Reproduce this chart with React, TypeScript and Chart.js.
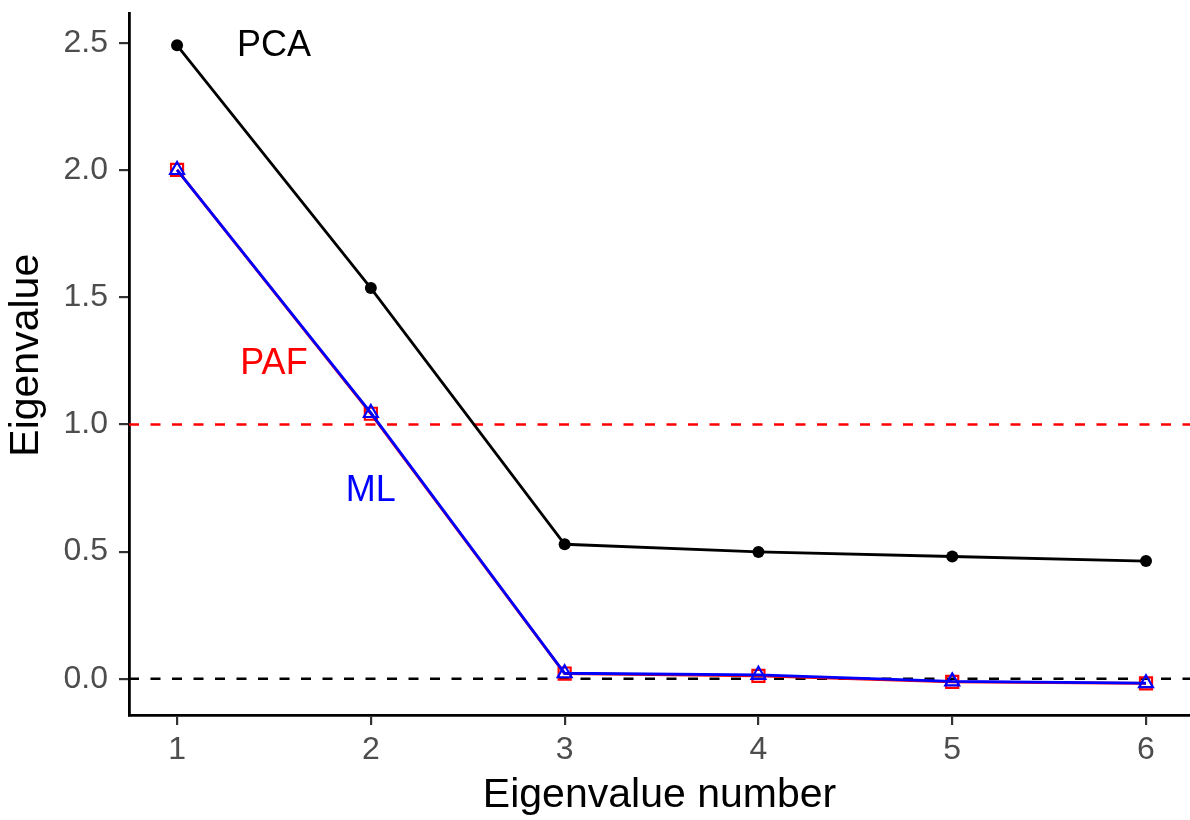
import React, { useEffect, useRef } from "react";
import { Chart, registerables } from "chart.js";

Chart.register(...registerables);

const eigenNumbers = [1, 2, 3, 4, 5, 6];
const pcaValues = [2.49, 1.536, 0.529, 0.499, 0.481, 0.463];
const pafValues = [2.0, 1.042, 0.021, 0.012, -0.012, -0.018];
const mlValues = [2.0, 1.045, 0.022, 0.016, -0.01, -0.017];

const xTickValues = [1, 2, 3, 4, 5, 6];
const xTickLabels = ["1", "2", "3", "4", "5", "6"];
const yTickValues = [0, 0.5, 1.0, 1.5, 2.0, 2.5];
const yTickLabels = ["0.0", "0.5", "1.0", "1.5", "2.0", "2.5"];

const refLineValues = [1.0, 0.0];
const refLineColors = ["#FF0000", "#000000"];

const labelTexts = ["PCA", "PAF", "ML"];
const labelX = [1.5, 1.5, 2.0];
const labelY = [2.5, 1.25, 0.75];
const labelColors = ["#000000", "#FF0000", "#0000FF"];

const xTitle = "Eigenvalue number";
const yTitle = "Eigenvalue";

const FONT = "'Liberation Sans', Arial, Helvetica, sans-serif";

export default function App() {
  const canvasRef = useRef<HTMLCanvasElement | null>(null);

  useEffect(() => {
    const canvas = canvasRef.current;
    if (!canvas) return;

    const refLinesPlugin = {
      id: "refLines",
      beforeDatasetsDraw(chart: any) {
        const { ctx, chartArea, scales } = chart;
        ctx.save();
        ctx.lineWidth = 2.5;
        ctx.setLineDash([10, 11.5]);
        refLineValues.forEach((v, i) => {
          const y = scales.y.getPixelForValue(v);
          ctx.strokeStyle = refLineColors[i];
          ctx.beginPath();
          ctx.moveTo(chartArea.left, y);
          ctx.lineTo(chartArea.right, y);
          ctx.stroke();
        });
        ctx.restore();
      },
    };

    const labelsPlugin = {
      id: "textLabels",
      afterDatasetsDraw(chart: any) {
        const { ctx, scales } = chart;
        const size = 36;
        ctx.save();
        ctx.font = `${size}px ${FONT}`;
        ctx.textAlign = "center";
        ctx.textBaseline = "alphabetic";
        labelTexts.forEach((t, i) => {
          ctx.fillStyle = labelColors[i];
          ctx.fillText(
            t,
            scales.x.getPixelForValue(labelX[i]),
            scales.y.getPixelForValue(labelY[i]) + size * 0.716 / 2
          );
        });
        ctx.restore();
      },
    };

    const yTitlePlugin = {
      id: "yTitle",
      afterDraw(chart: any) {
        const { ctx, chartArea } = chart;
        ctx.save();
        ctx.font = `41px ${FONT}`;
        ctx.fillStyle = "#000000";
        ctx.textAlign = "center";
        ctx.textBaseline = "alphabetic";
        ctx.translate(38, (chartArea.top + chartArea.bottom) / 2 - 9);
        ctx.rotate(-Math.PI / 2);
        ctx.fillText(yTitle, 0, 0);
        ctx.restore();
      },
    };

    const toXY = (vals: number[]) => eigenNumbers.map((x, i) => ({ x, y: vals[i] }));

    const chart = new Chart(canvas, {
      type: "line",
      data: {
        datasets: [
          {
            label: "PCA",
            data: toXY(pcaValues),
            borderColor: "#000000",
            backgroundColor: "#000000",
            borderWidth: 2.8,
            pointStyle: "circle",
            pointRadius: 6,
            pointBackgroundColor: "#000000",
            pointBorderColor: "#000000",
            pointBorderWidth: 0,
            order: 3,
          },
          {
            label: "PAF",
            data: toXY(pafValues),
            borderColor: "#FF0000",
            backgroundColor: "rgba(0,0,0,0)",
            borderWidth: 2.8,
            pointStyle: "rect",
            pointRadius: 8.5,
            pointBackgroundColor: "rgba(0,0,0,0)",
            pointBorderColor: "#FF0000",
            pointBorderWidth: 2.2,
            order: 2,
          },
          {
            label: "ML",
            data: toXY(mlValues),
            borderColor: "#0000FF",
            backgroundColor: "rgba(0,0,0,0)",
            borderWidth: 2.8,
            pointStyle: "triangle",
            pointRadius: 8,
            pointBackgroundColor: "rgba(0,0,0,0)",
            pointBorderColor: "#0000FF",
            pointBorderWidth: 2.2,
            order: 1,
          },
        ],
      },
      options: {
        responsive: false,
        animation: false,
        layout: { autoPadding: false, padding: { top: 13.5, right: 0, left: 0, bottom: 0 } },
        plugins: {
          legend: { display: false },
          tooltip: { enabled: false },
        },
        elements: { line: { tension: 0 } },
        scales: {
          x: {
            type: "linear",
            min: 0.752,
            max: 6.227,
            afterBuildTicks(scale: any) {
              scale.ticks = xTickValues.map((v) => ({ value: v }));
            },
            afterFit(scale: any) {
              scale.height = 105;
              scale.paddingLeft = 0;
              scale.paddingRight = 0;
            },
            ticks: {
              callback: (v: any) => xTickLabels[xTickValues.indexOf(Number(v))] ?? "",
              color: "#4D4D4D",
              font: { family: FONT, size: 32 },
              padding: 6,
              maxRotation: 0,
            },
            grid: {
              drawOnChartArea: false,
              drawTicks: true,
              tickLength: 10,
              color: "#333333",
              lineWidth: 2.2,
            },
            border: { display: true, color: "#000000", width: 2.8 },
            title: {
              display: true,
              text: xTitle,
              color: "#000000",
              font: { family: FONT, size: 41 },
              padding: { top: 0, bottom: 0 },
            },
          },
          y: {
            type: "linear",
            min: -0.142,
            max: 2.615,
            afterBuildTicks(scale: any) {
              scale.ticks = yTickValues.map((v) => ({ value: v }));
            },
            afterFit(scale: any) {
              scale.width = 129;
              scale.paddingTop = 0;
              scale.paddingBottom = 0;
            },
            ticks: {
              callback: (v: any) => yTickLabels[yTickValues.findIndex((t) => Math.abs(t - Number(v)) < 1e-9)] ?? "",
              color: "#4D4D4D",
              font: { family: FONT, size: 32 },
              padding: 11,
            },
            grid: {
              drawOnChartArea: false,
              drawTicks: true,
              tickLength: 10,
              color: "#333333",
              lineWidth: 2.2,
            },
            border: { display: true, color: "#000000", width: 2.8 },
            title: { display: false },
          },
        },
      },
      plugins: [refLinesPlugin, labelsPlugin, yTitlePlugin],
    } as any);

    return () => {
      chart.destroy();
    };
  }, []);

  return (
    <div style={{ position: "absolute", left: 0, top: 0, width: 1190, height: 820, background: "#ffffff" }}>
      <canvas ref={canvasRef} width={1190} height={820} style={{ display: "block" }} />
    </div>
  );
}
